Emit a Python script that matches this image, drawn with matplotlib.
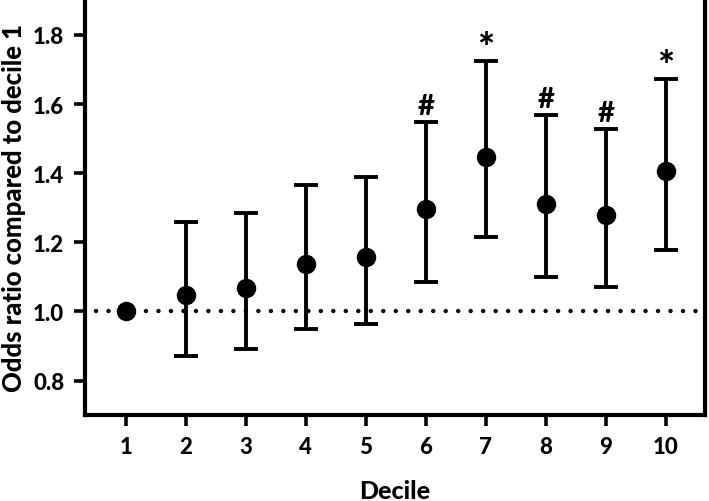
"""
Odds ratio by decile, with 95% CI error bars
"""

import numpy as np
import matplotlib.pyplot as plt

plt.rcParams['font.family'] = ['Lato', 'DejaVu Sans']
plt.rcParams['font.weight'] = 900

# Data
deciles = [1, 2, 3, 4, 5, 6, 7, 8, 9, 10]
odds = [1.0, 1.047, 1.068, 1.136, 1.157, 1.295, 1.446, 1.311, 1.278, 1.405]
lower = [1.0, 0.871, 0.892, 0.948, 0.964, 1.085, 1.214, 1.099, 1.071, 1.179]
upper = [1.0, 1.260, 1.285, 1.365, 1.390, 1.548, 1.724, 1.567, 1.528, 1.673]
marks = ['', '', '', '', '', '#', '*', '#', '#', '*']
yticks = [0.8, 1.0, 1.2, 1.4, 1.6, 1.8]

fig = plt.figure(figsize=(7.09, 5.02), dpi=100)
ax = fig.add_axes([0.12, 0.171, 0.874, 0.829])

odds = np.array(odds)
err = np.array([odds - np.array(lower), np.array(upper) - odds])

# dotted reference line at 1
ax.plot([0.5, 10.5], [1, 1], color='black', lw=3.2, ls=(0, (0.01, 2.8)),
        dash_capstyle='round', zorder=1)

ax.errorbar(deciles[1:], odds[1:], yerr=err[:, 1:], fmt='none', ecolor='black',
            elinewidth=2.8, capsize=8.5, capthick=2.8, zorder=2)
ax.plot(deciles, odds, 'o', color='black', ms=13, zorder=3)

for x, u, m in zip(deciles, upper, marks):
    if m == '#':
        ax.text(x, u + 0.01, m, ha='center', va='bottom', fontsize=21,
                fontweight=900)
    elif m == '*':
        ax.text(x, u - 0.02, m, ha='center', va='bottom', fontsize=29,
                fontweight=900)

ax.set_xlim(0.32, 10.65)
ax.set_ylim(0.7, 1.904)
ax.set_xticks(deciles)
ax.set_yticks(yticks)
ax.set_yticklabels(['%.1f' % v for v in yticks])

ax.spines['top'].set_visible(False)
for s in ['left', 'right', 'bottom']:
    ax.spines[s].set_linewidth(3)
ax.tick_params(axis='both', length=8, width=2.6, labelsize=16, pad=7)

ax.set_xlabel('Decile', fontsize=18, fontweight=900, labelpad=16)
ax.set_ylabel('Odds ratio compared to decile 1', fontsize=18.5, fontweight=900,
              labelpad=5)

plt.savefig('out.png', format='png')
